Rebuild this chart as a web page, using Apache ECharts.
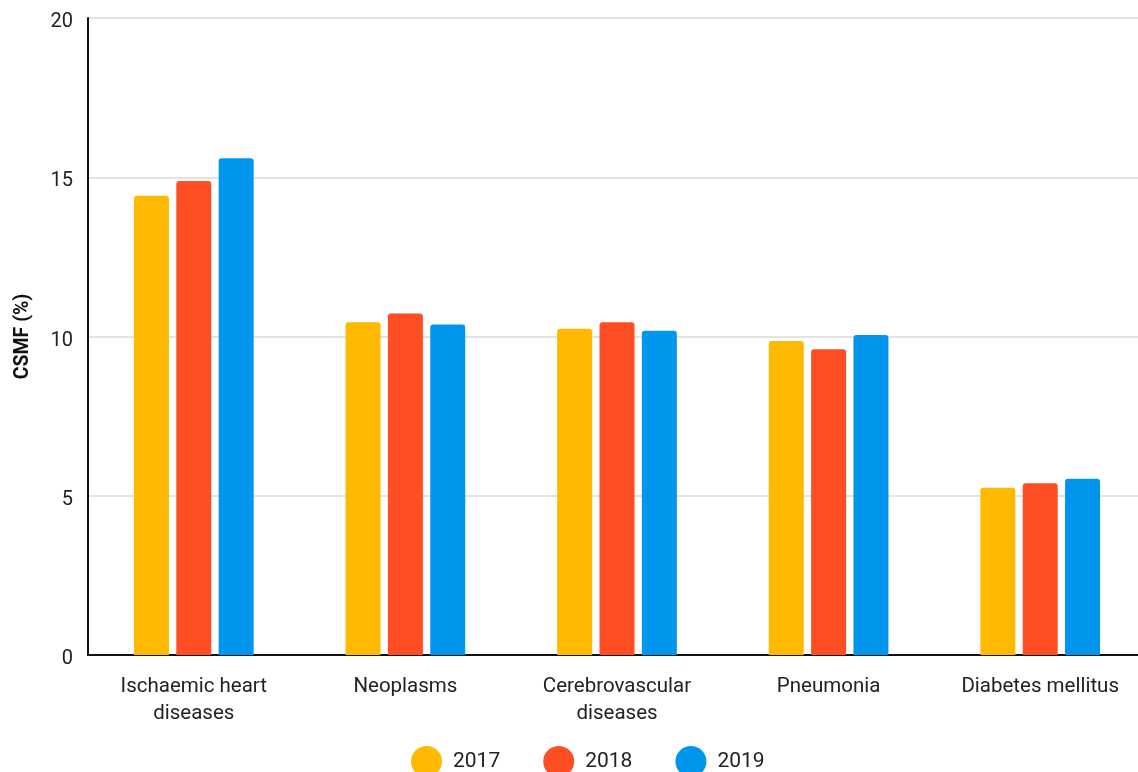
<!DOCTYPE html>
<html>
<head>
<meta charset="utf-8">
<style>
  html, body { margin: 0; padding: 0; background: #fff; }
  #chart { width: 1138px; height: 772px; }
</style>
<script src="https://cdn.jsdelivr.net/npm/echarts@6/dist/echarts.min.js"></script>
</head>
<body>
<div id="chart"></div>
<script>
// Cause-specific mortality fraction by leading cause, 2017–2019
const categories = ['Ischaemic heart\ndiseases', 'Neoplasms', 'Cerebrovascular\ndiseases', 'Pneumonia', 'Diabetes mellitus'];
const years = ['2017', '2018', '2019'];
const values2017 = [14.42, 10.45, 10.24, 9.86, 5.25];
const values2018 = [14.88, 10.72, 10.45, 9.60, 5.39];
const values2019 = [15.60, 10.38, 10.18, 10.05, 5.53];
const yTicks = { min: 0, max: 20, interval: 5 };
const colors = ['#FFB900', '#FF4D24', '#0096EE'];

const font = 'Roboto, "Noto Sans", sans-serif';
const chart = echarts.init(document.getElementById('chart'), null, { renderer: 'canvas' });

const seriesData = [values2017, values2018, values2019];

chart.setOption({
  animation: false,
  color: colors,
  textStyle: { fontFamily: font },
  // plot area runs slightly past the right edge of the canvas
  grid: { left: 88, width: 1058, top: 18, bottom: 117, containLabel: false, outerBoundsMode: 'none' },
  legend: {
    data: years,
    top: 741,
    left: 406,
    icon: 'circle',
    itemWidth: 31,
    itemHeight: 31,
    itemGap: 43,
    textStyle: { fontSize: 21, color: '#222', fontFamily: font, padding: [0, 0, 0, 6] }
  },
  xAxis: {
    type: 'category',
    data: categories,
    axisLine: { show: true, lineStyle: { color: '#111', width: 2 } },
    axisTick: { show: false },
    axisLabel: {
      color: '#222',
      fontSize: 20.5,
      lineHeight: 27,
      margin: 18,
      interval: 0,
      fontFamily: font
    }
  },
  yAxis: {
    type: 'value',
    min: yTicks.min,
    max: yTicks.max,
    interval: yTicks.interval,
    name: 'CSMF (%)',
    nameLocation: 'middle',
    nameGap: 55,
    nameTextStyle: { fontSize: 19.5, fontWeight: 'bold', color: '#111', fontFamily: font },
    axisLine: { show: true, lineStyle: { color: '#111', width: 2 } },
    axisTick: { show: false },
    axisLabel: {
      formatter: '{v|{value}}',
      margin: 15,
      rich: { v: { color: '#222', fontSize: 20, fontFamily: font, padding: [8, 0, 0, 0] } }
    },
    splitLine: { show: true, lineStyle: { color: '#e3e3e3', width: 2 } }
  },
  series: years.map((y, i) => ({
    name: y,
    type: 'bar',
    data: seriesData[i],
    barWidth: 35,
    barGap: '21%',
    itemStyle: { color: colors[i], borderRadius: [3, 3, 0, 0] }
  }))
});
</script>
</body>
</html>
